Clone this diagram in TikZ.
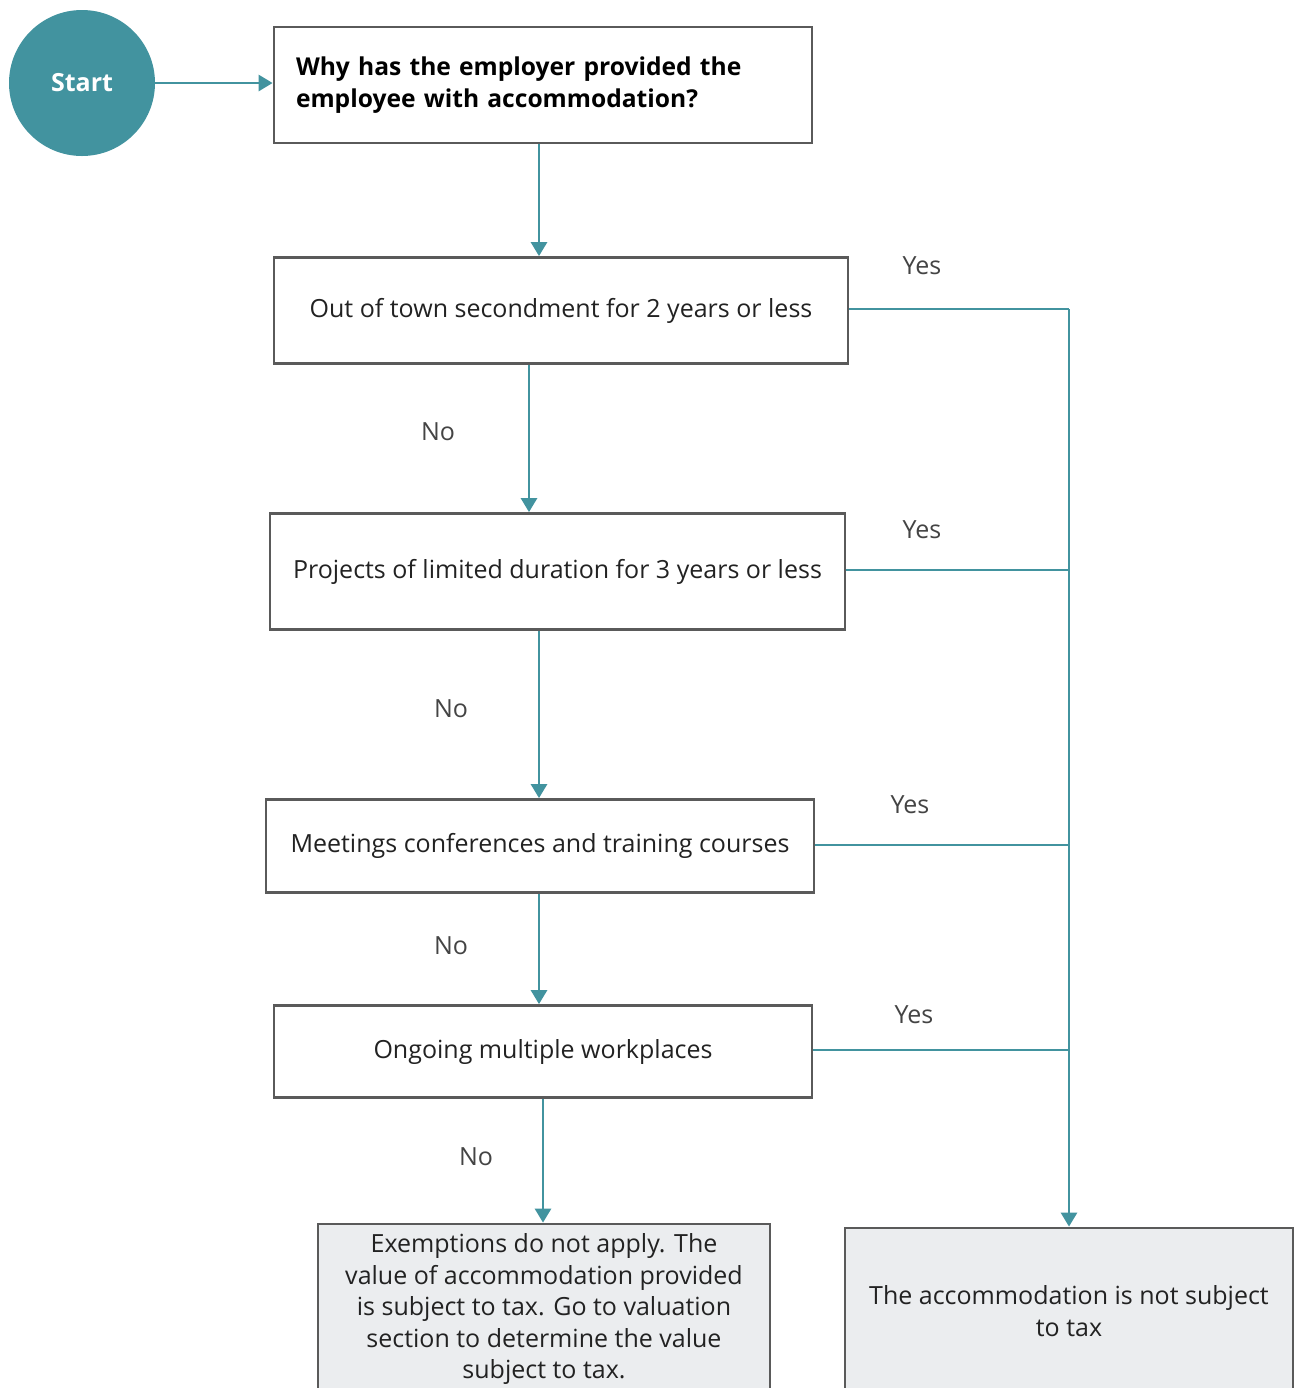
\documentclass[tikz,border=0pt]{standalone}
\usepackage{fontspec}
\setmainfont{Open Sans}
\usetikzlibrary{arrows.meta}
\definecolor{teal1}{HTML}{42939F}
\definecolor{boxgray}{HTML}{5A5A5A}
\definecolor{fillgray}{HTML}{EBEDEF}
\definecolor{txt}{HTML}{222222}
\definecolor{lbl}{HTML}{444444}
\tikzset{
  qbox/.style={draw=boxgray, line width=1.4pt, rectangle, inner sep=0pt, align=center,
    font=\fontsize{12.5}{15}\selectfont, text=txt},
  endbox/.style={qbox, fill=fillgray, font=\fontsize{12.5}{15.75}\selectfont},
  arr/.style={draw=teal1, line width=1.4pt, -{Triangle[width=8pt,length=7pt]}},
  ln/.style={draw=teal1, line width=1.4pt},
  lab/.style={font=\fontsize{12.5}{14}\selectfont, text=lbl},
}
\begin{document}
\begin{tikzpicture}[x=0.5pt,y=-0.5pt]
\clip (0,0) rectangle (1295,1388);
\fill[white] (0,0) rectangle (1295,1388);
\node[circle, fill=teal1, minimum size=73pt, inner sep=0pt, text=white,
  font=\fontsize{12.5}{15}\selectfont\bfseries] (st) at (82,83) {Start};
\node[qbox, minimum width=269pt, minimum height=58pt, align=left, text width=247pt,
  inner xsep=11pt, font=\fontsize{12.3}{16}\selectfont\bfseries, text=black] (b1) at (543,85)
  {Why has the employer provided the\\employee with accommodation?};
\node[qbox, minimum width=287pt, minimum height=53pt] (b2) at (561,310.5)
  {Out of town secondment for 2 years or less};
\node[qbox, minimum width=287.5pt, minimum height=58pt] (b3) at (557.5,571.5)
  {Projects of limited duration for 3 years or less};
\node[qbox, minimum width=274pt, minimum height=46.5pt] (b4) at (540,846)
  {Meetings conferences and training courses};
\node[qbox, minimum width=269pt, minimum height=46pt] (b5) at (543,1051.5)
  {Ongoing multiple workplaces};
\node[endbox, minimum width=226pt, minimum height=85pt] (b6) at (544,1309)
  {Exemptions do not apply. The\\value of accommodation provided\\is subject to tax. Go to valuation\\section to determine the value\\subject to tax.};
\node[endbox, minimum width=224pt, minimum height=83pt] (b7) at (1069,1311)
  {The accommodation is not subject\\to tax};
\coordinate (j1) at (1069,309);
% main flow
\draw[arr] (st) -- (b1.west |- st);
\draw[arr] ([xshift=-2pt]b1.south) -- ([xshift=-11pt]b2.north);
\draw[arr] ([xshift=-16pt]b2.south) -- ([xshift=-14.25pt]b3.north);
\draw[arr] ([xshift=-9.25pt]b3.south) -- ([xshift=-0.5pt]b4.north);
\draw[arr] ([xshift=-0.5pt]b4.south) -- ([xshift=-2pt]b5.north);
\draw[arr] (b5.south) -- ([xshift=-0.5pt]b6.north);
% yes branches
\draw[ln] (b2.east |- j1) -- (j1);
\draw[arr] (j1) -- (b7.north);
\draw[ln] (b3.east |- 0,570) -- (1069,570);
\draw[ln] (b4.east |- 0,845) -- (1069,845);
\draw[ln] (b5.east |- 0,1050) -- (1069,1050);
% labels
\node[lab] (y1) at (922,266) {Yes};
\node[lab] (y2) at (922,530) {Yes};
\node[lab] (y3) at (910,805) {Yes};
\node[lab] (y4) at (914,1015) {Yes};
\node[lab] (n1) at (438,432) {No};
\node[lab] (n2) at (451,709) {No};
\node[lab] (n3) at (451,946) {No};
\node[lab] (n4) at (476,1157) {No};
\end{tikzpicture}
\end{document}
